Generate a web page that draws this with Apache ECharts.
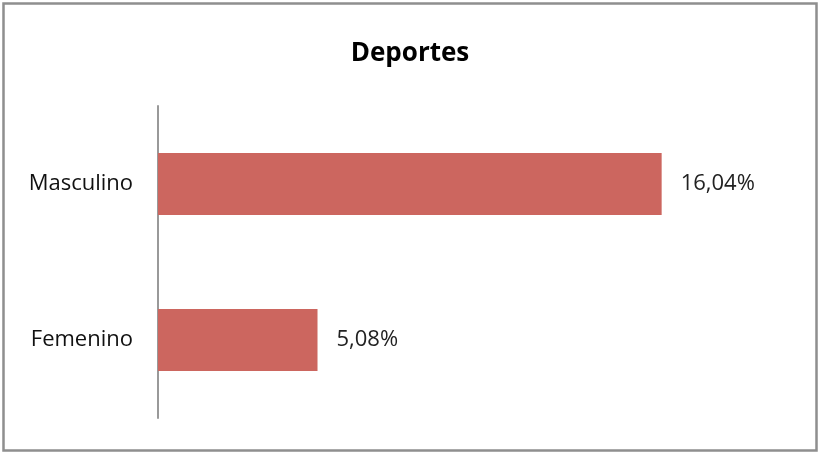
<!DOCTYPE html>
<html><head><meta charset="utf-8">
<script src="https://cdn.jsdelivr.net/npm/echarts@6/dist/echarts.min.js"></script>
<style>html,body{margin:0;padding:0;background:#fff}#c{width:820px;height:454px}</style>
</head><body><div id="c"></div>
<script>
const categories = ['Femenino', 'Masculino'];
const values = [5.08, 16.04];
const chart = echarts.init(document.getElementById('c'));
chart.setOption({
  animation: false,
  backgroundColor: '#fff',
  title: {text: 'Deportes', left: 'center', top: 36, textStyle: {fontFamily: 'Open Sans', fontSize: 26, fontWeight: 'bold', color: '#000'}},
  graphic: [{type: 'rect', shape: {x: 3.5, y: 3.5, width: 813, height: 447}, style: {fill: 'none', stroke: '#8f8f8f', lineWidth: 2.5}, silent: true}],
  grid: {left: 158, top: 106, width: 628, bottom: 36},
  xAxis: {type: 'value', min: 0, max: 20, show: false},
  yAxis: {type: 'category', data: categories,
    axisLine: {lineStyle: {color: '#999', width: 2}}, axisTick: {show: false},
    axisLabel: {fontFamily: 'Open Sans', fontSize: 22, color: '#111', margin: 25, padding: [6, 0, 0, 0]}},
  series: [{type: 'bar', data: values, barWidth: 62, itemStyle: {color: '#CC665F'},
    label: {show: true, position: 'right', distance: 19, fontFamily: 'Open Sans', fontSize: 22, color: '#222', padding: [6, 0, 0, 0],
      formatter: p => p.value.toFixed(2).replace('.', ',') + '%'}}]
});
</script></body></html>
